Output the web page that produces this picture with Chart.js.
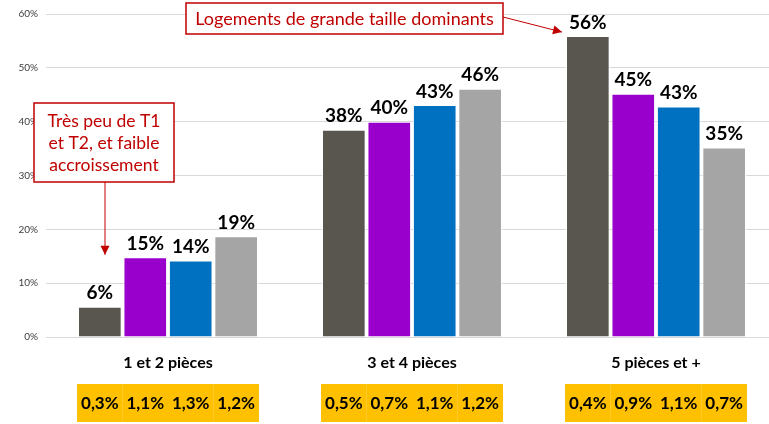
<!DOCTYPE html>
<html>
<head>
<meta charset="utf-8">
<script src="https://cdn.jsdelivr.net/npm/chart.js@4.4.0/dist/chart.umd.min.js"></script>
<style>
  html, body { margin: 0; padding: 0; background: #fff; overflow: hidden; }
  #wrap { width: 790px; height: 424px; }
</style>
</head>
<body>
<div id="wrap"><canvas id="chart" width="790" height="424"></canvas></div>
<script>
// valeurs
const categories = ['1 et 2 pièces', '3 et 4 pièces', '5 pièces et +'];
const serie1 = [5.6, 38.5, 55.9];
const serie2 = [14.8, 40.0, 45.2];
const serie3 = [14.2, 43.1, 42.8];
const serie4 = [18.7, 46.1, 35.2];
const valueLabels = [
  ['6%', '38%', '56%'],
  ['15%', '40%', '45%'],
  ['14%', '43%', '43%'],
  ['19%', '46%', '35%']
];
// taux d'accroissement (cases jaunes)
const growth = [
  ['0,3%', '0,5%', '0,4%'],
  ['1,1%', '0,7%', '0,9%'],
  ['1,3%', '1,1%', '1,1%'],
  ['1,2%', '1,2%', '0,7%']
];
const yTicks = [0, 10, 20, 30, 40, 50, 60];

const colors = ['#595650', '#9900CC', '#0070C0', '#A5A5A5'];
const FONT = 'Lato, "Open Sans", sans-serif';
const RED = '#C00000';

function arrow(ctx, x1, y1, x2, y2) {
  ctx.save();
  ctx.strokeStyle = RED;
  ctx.fillStyle = RED;
  ctx.lineWidth = 1;
  ctx.beginPath();
  ctx.moveTo(x1, y1);
  ctx.lineTo(x2, y2);
  ctx.stroke();
  const a = Math.atan2(y2 - y1, x2 - x1);
  const L = 9, W = 4.5;
  ctx.beginPath();
  ctx.moveTo(x2, y2);
  ctx.lineTo(x2 - L * Math.cos(a) + W * Math.sin(a), y2 - L * Math.sin(a) - W * Math.cos(a));
  ctx.lineTo(x2 - L * Math.cos(a) - W * Math.sin(a), y2 - L * Math.sin(a) + W * Math.cos(a));
  ctx.closePath();
  ctx.fill();
  ctx.restore();
}

function noteBox(ctx, x, y, w, h, lines, lineH, size) {
  ctx.save();
  ctx.fillStyle = '#fff';
  ctx.fillRect(x, y, w, h);
  ctx.strokeStyle = RED;
  ctx.lineWidth = 1.5;
  ctx.strokeRect(x, y, w, h);
  ctx.fillStyle = RED;
  ctx.font = size + 'px ' + FONT;
  ctx.textAlign = 'center';
  ctx.textBaseline = 'middle';
  const top = y + h / 2 - (lines.length - 1) * lineH / 2;
  lines.forEach((t, i) => ctx.fillText(t, x + w / 2, top + i * lineH + 1));
  ctx.restore();
}

const extras = {
  id: 'extras',
  afterDatasetsDraw(chart) {
    const ctx = chart.ctx;
    const ys = chart.scales.y;
    chart.data.datasets.forEach((ds, di) => {
      const meta = chart.getDatasetMeta(di);
      meta.data.forEach((bar, i) => {
        // étiquette de valeur
        ctx.save();
        ctx.fillStyle = '#000';
        ctx.font = 'bold 19px ' + FONT;
        ctx.textAlign = 'center';
        ctx.textBaseline = 'bottom';
        ctx.fillText(valueLabels[di][i], bar.x, bar.y - 4);
        // case jaune
        const w = bar.width + 2;
        const bx = bar.x - w / 2;
        const by = ys.bottom + 47;
        ctx.fillStyle = '#FFC000';
        ctx.fillRect(bx, by, w, 38);
        ctx.fillStyle = '#000';
        ctx.font = 'bold 17px ' + FONT;
        ctx.textBaseline = 'middle';
        ctx.fillText(growth[di][i], bar.x, by + 20);
        ctx.restore();
      });
    });

    // annotations
    const m0 = chart.getDatasetMeta(0);
    const big = m0.data[2];
    noteBox(ctx, 186, 3, 317, 31, ['Logements de grande taille dominants'], 20, 18);
    arrow(ctx, 503, 17, big.x - big.width / 2 - 4, big.y - 4);
    const small = m0.data[0];
    arrow(ctx, 105, 182, 105, small.y - 52);
    noteBox(ctx, 34, 103, 140, 79, ['Très peu de T1', 'et T2, et faible', 'accroissement'], 22, 17.5);
  }
};

new Chart(document.getElementById('chart'), {
  type: 'bar',
  data: {
    labels: categories,
    datasets: [serie1, serie2, serie3, serie4].map((d, i) => ({
      data: d,
      backgroundColor: colors[i],
      borderColor: '#ffffff',
      borderWidth: 1,
      categoryPercentage: 0.745,
      barPercentage: 0.96
    }))
  },
  options: {
    responsive: false,
    animation: false,
    layout: { padding: { top: 13, right: 12, left: 0, bottom: 0 } },
    plugins: { legend: { display: false }, tooltip: { enabled: false } },
    scales: {
      x: {
        grid: { display: false },
        border: { display: false },
        ticks: { color: '#000', font: { family: FONT, size: 16, weight: 'bold' }, padding: 8 },
        afterFit(s) { s.height = 87; }
      },
      y: {
        min: 0, max: 60,
        afterBuildTicks(s) { s.ticks = yTicks.map(v => ({ value: v })); },
        grid: { color: '#d9d9d9', lineWidth: 1, drawTicks: false },
        border: { display: false },
        ticks: { color: '#404040', font: { family: FONT, size: 10 }, padding: 8, callback: v => v + '%' },
        afterFit(s) { s.width = 46; }
      }
    }
  },
  plugins: [extras]
});
</script>
</body>
</html>
